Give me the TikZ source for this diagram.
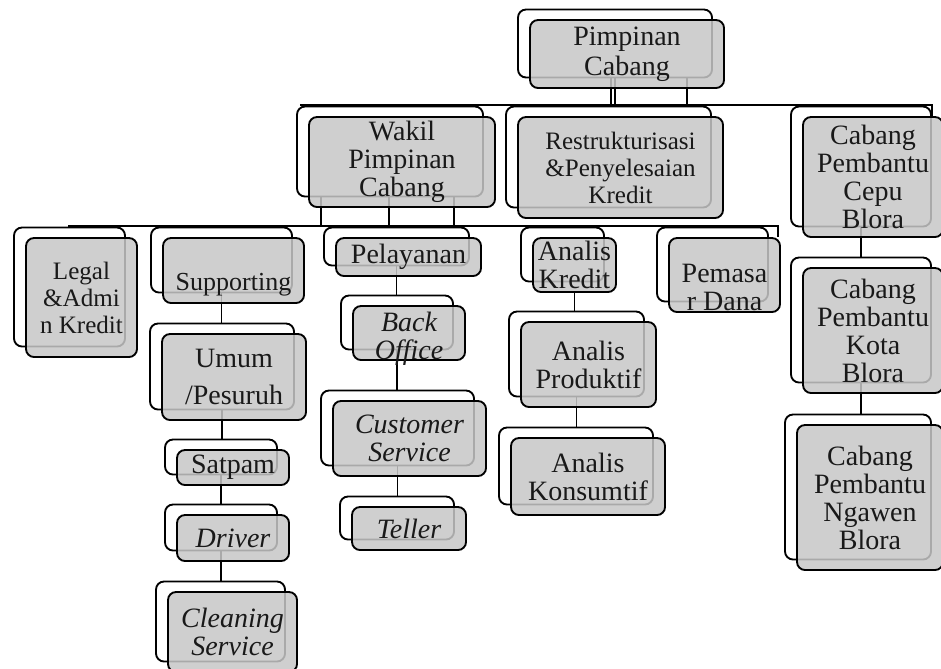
\documentclass[tikz,border=0pt]{standalone}
\usepackage{fontspec}
\setmainfont{Liberation Serif}
\usetikzlibrary{fit,calc,backgrounds}

\tikzset{
  backbox/.style={draw, line width=1.4pt, rounded corners=6pt, fill=white, inner sep=0pt},
  frontbox/.style={draw, line width=1.4pt, rounded corners=6pt, fill=black!22, fill opacity=0.85, inner sep=0pt},
  unittext/.style={align=center, font=\fontsize{21}{21}\selectfont, text=black!90, inner sep=0pt, fill opacity=1, text opacity=1},
  smalltext/.style={font=\fontsize{18.8}{20.2}\selectfont},
  itext/.style={font=\fontsize{21}{21}\selectfont\itshape},
  link/.style={line width=1.4pt}
}

% one unit: white card behind, grey card in front
\newcommand\orgunit[7][]{%
  \node[backbox, fit={(#3-12,#4-10.5) (#5-12,#6-10.5)}] (#2b) {};
  \node[frontbox, fit={(#3,#4) (#5,#6)}, label={[unittext,#1]center:{#7}}] (#2) {};
}

\begin{document}
\begin{tikzpicture}[x=0.75pt,y=-0.75pt]
  \useasboundingbox (0,0) rectangle (941,668);

  % Top level
  \orgunit[font=\fontsize{21}{22.5}\selectfont]{pimp}{530}{20}{724}{88}{Pimpinan\\Cabang}

  % Second row
  \orgunit{wakil}{309}{117}{495}{207}{Wakil\\Pimpinan\\Cabang}
  \orgunit[smalltext]{restr}{518}{117}{723}{218}{Restrukturisasi\\\&Penyelesaian\\Kredit}
  \orgunit{cepu}{803}{117}{943}{237}{Cabang\\Pembantu\\Cepu\\Blora}
  \orgunit{kota}{803}{268}{943}{393}{Cabang\\Pembantu\\Kota\\Blora}
  \orgunit{ngawen}{797}{425}{943}{570}{Cabang\\Pembantu\\Ngawen\\Blora}

  % Third row
  \orgunit[smalltext]{legal}{26}{238}{137}{357}{Legal\\\&Admi\\n Kredit}
  \orgunit[font=\fontsize{19.5}{20}\selectfont, yshift=-11pt]{supp}{163}{238}{304}{303}{Supporting}
  \orgunit{layan}{336}{238}{481}{276}{Pelayanan}
  \orgunit{kredit}{533}{238}{616}{292}{Analis\\Kredit}
  \orgunit[yshift=-9pt]{dana}{669}{238}{780}{312}{Pemasa\\r Dana}

  % Supporting staff
  \orgunit{umum}{162}{334}{306}{420}{Umum\\[7pt]/Pesuruh}
  \orgunit{satpam}{177}{450}{289}{485}{Satpam}
  \orgunit[itext]{driver}{177}{515}{289}{561}{Driver}
  \orgunit[itext]{clean}{168}{592}{297}{672}{Cleaning\\Service}

  % Service staff
  \orgunit[itext, yshift=-4pt]{office}{353}{306}{465}{360}{Back\\Office}
  \orgunit[itext]{cs}{333}{401}{486}{476}{Customer\\Service}
  \orgunit[itext]{teller}{352}{507}{466}{550}{Teller}

  % Credit analysts
  \orgunit{prod}{521}{322}{656}{407}{Analis\\Produktif}
  \orgunit{kons}{511}{438}{665}{515}{Analis\\Konsumtif}

  % Connectors
  \begin{pgfonlayer}{background}
    \coordinate (busA-l) at (300,105);
    \coordinate (busA-r) at (932,105);
    \coordinate (busB-l) at (68,226);
    \coordinate (busB-r) at (778,226);
    \foreach \dx in {-4,0,72}
      \draw[link] ($(pimpb.south)+(\dx,0)$) -- ++(0,28);
    \draw[link] (busA-l) -- (busA-r) -- (busA-r |- cepu.north);
    \foreach \dx in {-69,-1,64}
      \draw[link] ($(wakilb.south)+(\dx,0)$) -- ++(0,30);
    \draw[link] (busB-l) -- (busB-r) -- (busB-r |- dana.north);

    \draw[link] (suppb.south) -- (suppb.south |- umumb.north);
    \draw[link] (umumb.south) -- (umumb.south |- satpamb.north);
    \draw[link] (satpamb.south) -- (satpamb.south |- driverb.north);
    \draw[link] (driverb.south) -- (driverb.south |- cleanb.north);

    \draw[link] (layanb.south) -- (layanb.south |- officeb.north);
    \draw[link] (officeb.south) -- (officeb.south |- csb.north);
    \draw[link] (csb.south) -- (csb.south |- tellerb.north);

    \draw[link] (kredit.south) -- (kredit.south |- prodb.north);
    \draw[link] (prodb.south) -- (prodb.south |- konsb.north);

    \draw[link] (cepub.south) -- (cepub.south |- kotab.north);
    \draw[link] (kotab.south) -- (kotab.south |- ngawenb.north);
  \end{pgfonlayer}
\end{tikzpicture}
\end{document}
